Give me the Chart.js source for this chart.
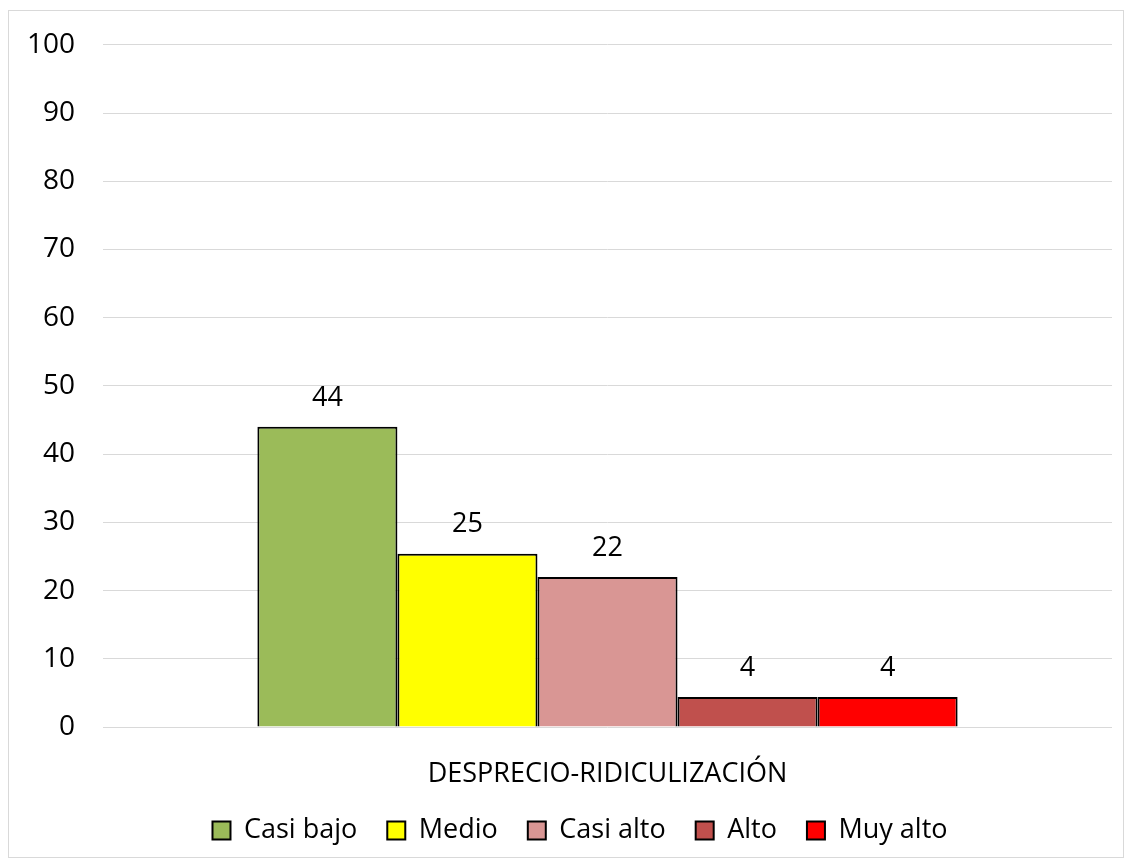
<!DOCTYPE html>
<html>
<head>
<meta charset="utf-8">
<script src="https://cdn.jsdelivr.net/npm/chart.js@4"></script>
<style>
  html, body { margin: 0; padding: 0; background: #fff; }
  #wrap { position: relative; width: 1131px; height: 867px; }
  #frame { position: absolute; left: 8px; top: 10px; width: 1114px; height: 846px;
           border: 1px solid #d9d9d9; pointer-events: none; }
</style>
</head>
<body>
<div id="wrap">
  <canvas id="chart" width="1131" height="867"></canvas>
  <div id="frame"></div>
</div>
<script>
// desprecio-ridiculizacion - levels as grouped bars

const categories = ["DESPRECIO-RIDICULIZACIÓN"];
const levels = ["Casi bajo", "Medio", "Casi alto", "Alto", "Muy alto"];
const values = [44, 25.4, 22, 4.4, 4.4];
const colors = ["#9BBB59", "#FFFF00", "#D99694", "#C0504D", "#FF0000"];
const yTicks = [0, 10, 20, 30, 40, 50, 60, 70, 80, 90, 100];

const FONT = "'Open Sans', sans-serif";

// labels above each bar, rounded like the original
const barLabels = {
  id: "barLabels",
  afterDatasetsDraw(chart) {
    const ctx = chart.ctx;
    ctx.save();
    ctx.font = "27px " + FONT;
    ctx.fillStyle = "#000";
    ctx.textAlign = "center";
    ctx.textBaseline = "middle";
    chart.data.datasets.forEach((ds, i) => {
      chart.getDatasetMeta(i).data.forEach((bar, j) => {
        ctx.fillText(Math.round(ds.data[j]), bar.x, bar.y - 29);
      });
    });
    ctx.restore();
  }
};

// legend sits a bit right of the canvas centre in the original
const legendShift = {
  id: "legendShift",
  afterLayout(chart) {
    chart.legend.left += 24;
    chart.legend.right += 24;
  }
};

new Chart(document.getElementById("chart"), {
  type: "bar",
  data: {
    labels: categories,
    datasets: levels.map((name, i) => ({
      label: name,
      data: [values[i]],
      backgroundColor: colors[i],
      borderColor: "#000",
      borderWidth: 2
    }))
  },
  options: {
    responsive: false,
    animation: false,
    layout: { padding: { left: 0, top: 43, right: 19, bottom: 13 } },
    datasets: { bar: { barPercentage: 1, categoryPercentage: 0.694 } },
    plugins: {
      tooltip: { enabled: false },
      legend: {
        position: "bottom",
        labels: {
          color: "#000",
          font: { family: FONT, size: 27 },
          boxWidth: 18,
          boxHeight: 18,
          padding: 30
        }
      }
    },
    scales: {
      x: {
        grid: { display: false },
        border: { display: false },
        ticks: { color: "#000", font: { family: FONT, size: 27 }, padding: 23 },
        afterFit(s) { s.height = 60; }
      },
      y: {
        min: 0,
        max: 100,
        afterBuildTicks(s) { s.ticks = yTicks.map(v => ({ value: v })); },
        grid: { color: "#d9d9d9", lineWidth: 1, drawTicks: false },
        border: { display: false },
        ticks: { color: "#000", font: { family: FONT, size: 28 }, padding: 28 },
        afterFit(s) { s.width = 103; }
      }
    }
  },
  plugins: [barLabels, legendShift]
});
</script>
</body>
</html>
